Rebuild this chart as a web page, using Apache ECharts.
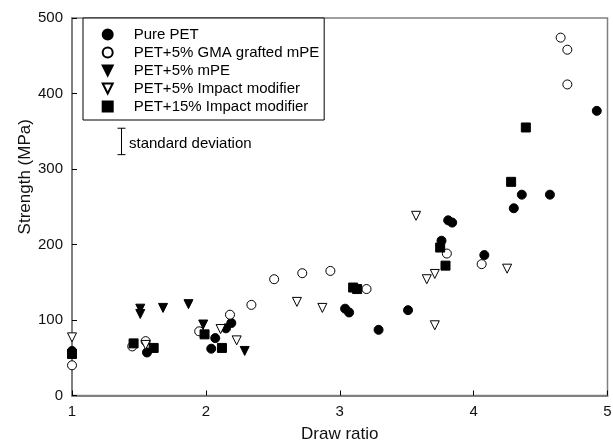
<!DOCTYPE html>
<html>
<head>
<meta charset="utf-8">
<script src="https://cdn.jsdelivr.net/npm/echarts@6/dist/echarts.min.js"></script>
<style>
html,body{margin:0;padding:0;background:#fff;}
#chart{width:613px;height:443px;}
</style>
</head>
<body>
<div id="chart"></div>
<script>
// ---- data ----
const seriesNames = ['Pure PET', 'PET+5% GMA grafted mPE', 'PET+5% mPE', 'PET+5% Impact modifier', 'PET+15% Impact modifier'];
const purePET = [[1.0,59],[1.56,57],[2.04,62],[2.07,76],[2.15,89],[2.19,96],[3.04,115],[3.07,110],[3.29,87],[3.51,113],[3.76,205],[3.81,232],[3.84,229],[4.08,186],[4.30,248],[4.36,266],[4.57,266],[4.92,377]];
const gmaPE = [[1.0,40],[1.45,65],[1.55,72],[1.95,85],[2.18,107],[2.34,120],[2.51,154],[2.72,162],[2.93,165],[3.20,141],[3.80,188],[4.06,174],[4.65,474],[4.70,458],[4.70,412]];
const mPE = [[1.51,115],[1.51,108],[1.68,116],[1.87,121],[1.98,94],[2.29,59]];
const impact5 = [[1.0,77],[1.55,67],[2.11,88],[2.23,73],[2.68,124],[2.87,116],[3.57,238],[3.65,154],[3.71,161],[3.71,93],[4.25,168]];
const impact15 = [[1.0,55],[1.46,69],[1.61,63],[1.99,81],[2.12,63],[3.10,143],[3.13,141],[3.75,196],[3.79,172],[4.28,283],[4.39,355]];
// standard deviation indicator: [x, low, high]
const stdDevBar = [[1.366, 319, 354]];
const stdDevText = 'standard deviation';

const FONT = 'Liberation Sans, Arial, sans-serif';
const filled = {color:'#000', borderColor:'#000', borderWidth:1, opacity:1};
const hollow = {color:'#fff', borderColor:'#000', borderWidth:1, opacity:1};
const DOWN_TRI = 'path://M0,0 L10,0 L5,10 Z';

function sc(name, data, symbol, style){
  return {name, type:'scatter', data, symbol, symbolSize: 9,
    itemStyle: style, clip:false, emphasis:{disabled:true}, z: 3};
}

const legendIcons = ['circle', 'circle', DOWN_TRI, DOWN_TRI, 'rect'];

const chart = echarts.init(document.getElementById('chart'), null, {renderer:'canvas'});
chart.setOption({
  animation:false,
  backgroundColor:'#fff',
  textStyle:{fontFamily:FONT},
  grid:{left:72, right:5.5, top:18, bottom:47.5, show:true, borderColor:'#808080', borderWidth:1.5,
    containLabel:false, outerBoundsMode:'none'},
  xAxis:{type:'value', min:1, max:5, interval:1,
    name:'Draw ratio', nameLocation:'middle', nameGap:30, nameMoveOverlap:false,
    nameTextStyle:{fontSize:17, color:'#111', fontFamily:FONT},
    axisLine:{show:true, onZero:false, lineStyle:{color:'#808080', width:2}},
    axisTick:{show:true, inside:true, length:5, lineStyle:{color:'#000', width:1}},
    axisLabel:{fontSize:15, color:'#111', margin:9, fontFamily:FONT},
    splitLine:{show:false}},
  yAxis:{type:'value', min:0, max:500, interval:100,
    name:'Strength (MPa)', nameLocation:'middle', nameGap:38, nameRotate:90, nameMoveOverlap:false,
    nameTextStyle:{fontSize:17, color:'#111', fontFamily:FONT, padding:[0,0,0,60]},
    axisLine:{show:true, onZero:false, lineStyle:{color:'#808080', width:2}},
    axisTick:{show:true, inside:true, length:5, lineStyle:{color:'#000', width:1}},
    axisLabel:{fontSize:15, color:'#111', margin:9, fontFamily:FONT},
    splitLine:{show:false}},
  legend:{data:seriesNames.map((n,i)=>({name:n, icon:legendIcons[i]})),
    orient:'vertical', left:83, top:18,
    padding:[9,5,6,18.7], itemGap:3, itemWidth:10, itemHeight:10,
    borderColor:'#000', borderWidth:1, backgroundColor:'#fff',
    textStyle:{fontSize:15, color:'#000', fontFamily:FONT, padding:[0,0,0,16]},
    selectedMode:false},
  series:[
    sc(seriesNames[0], purePET, 'circle', filled),
    sc(seriesNames[1], gmaPE, 'circle', hollow),
    sc(seriesNames[2], mPE, DOWN_TRI, filled),
    sc(seriesNames[3], impact5, DOWN_TRI, hollow),
    sc(seriesNames[4], impact15, 'rect', filled),
    {type:'custom', name:'sd', data:stdDevBar, clip:false, z:4,
      renderItem:function(params, api){
        const x = api.value(0);
        const pLo = api.coord([x, api.value(1)]);
        const pHi = api.coord([x, api.value(2)]);
        const cx = Math.round(pLo[0]) + 0.5;
        const st = {stroke:'#000', lineWidth:1};
        return {type:'group', children:[
          {type:'line', shape:{x1:cx, y1:pHi[1], x2:cx, y2:pLo[1]}, style:st},
          {type:'line', shape:{x1:cx-4, y1:pHi[1], x2:cx+4, y2:pHi[1]}, style:st},
          {type:'line', shape:{x1:cx-4, y1:pLo[1], x2:cx+4, y2:pLo[1]}, style:st},
          {type:'text', style:{text:stdDevText, x:cx+7.5, y:(pLo[1]+pHi[1])/2 + 2,
            textVerticalAlign:'middle', textAlign:'left', fill:'#000', font:'15px '+FONT}}
        ]};
      }}
  ]
});
</script>
</body>
</html>
